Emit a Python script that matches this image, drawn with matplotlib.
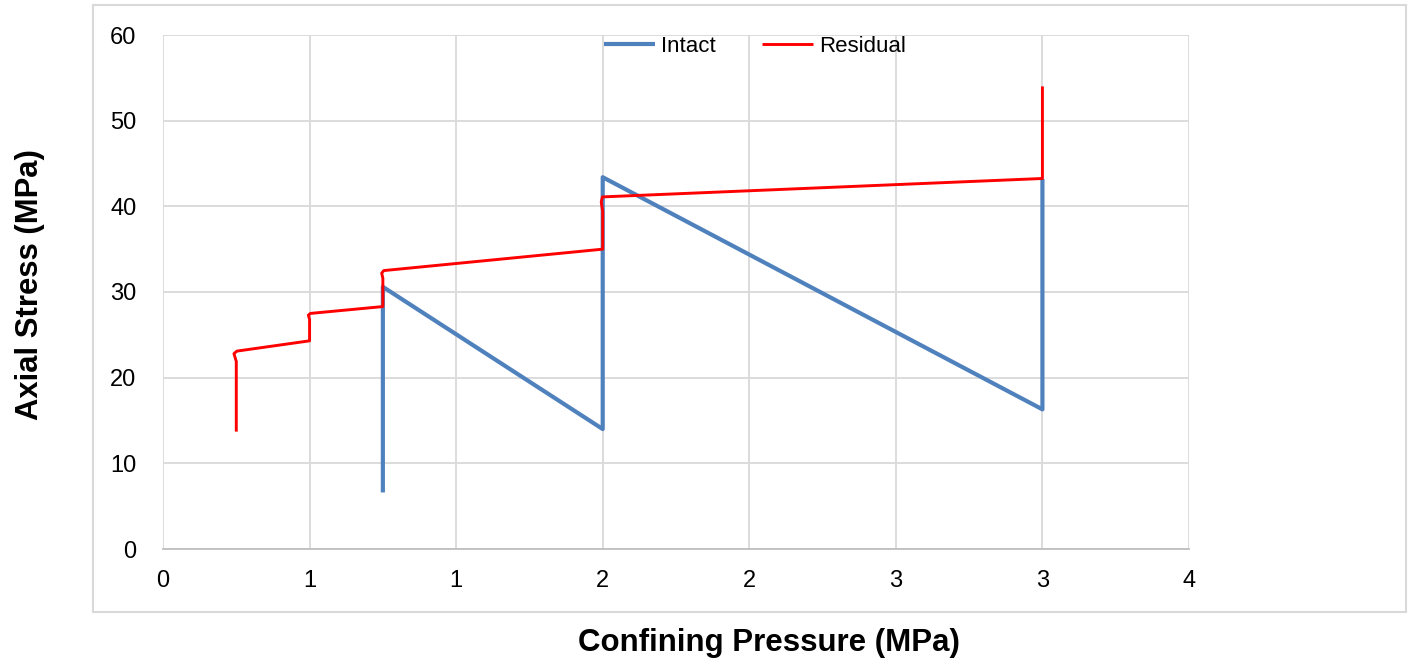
import matplotlib
matplotlib.use("Agg")
import matplotlib.pyplot as plt
from matplotlib.patches import Rectangle

plt.rcParams['font.family'] = ['Liberation Sans', 'DejaVu Sans']

# Intact strength path
intact_x = [0.75, 0.75, 1.5, 1.5, 3.0, 3.0, 3.0]
intact_y = [6.6, 30.6, 14.0, 43.4, 16.3, 17.3, 43.2]

# Residual strength path
residual_x = [0.25, 0.25, 0.242, 0.252, 0.5, 0.5, 0.496, 0.503, 0.75, 0.75,
              0.746, 0.753, 1.5, 1.5, 1.495, 1.499, 3.0, 3.0]
residual_y = [13.7, 21.9, 22.8, 23.1, 24.3, 26.8, 27.3, 27.5, 28.3, 31.6,
              32.2, 32.5, 35.0, 39.4, 40.5, 41.1, 43.25, 54.0]

x_ticks = [0, 0.5, 1.0, 1.5, 2.0, 2.5, 3.0, 3.5]
x_tick_labels = ['0', '1', '1', '2', '2', '3', '3', '4']
y_ticks = [0, 10, 20, 30, 40, 50, 60]

W, H = 1413, 666
fig = plt.figure(figsize=(W / 100, H / 100), dpi=100)
fig.patch.set_facecolor('white')

# chart frame
fig.patches.append(Rectangle((93 / W, 1 - 612 / H), (1406 - 93) / W, (612 - 5) / H,
                             transform=fig.transFigure, fill=False,
                             edgecolor='#d9d9d9', linewidth=1.5))

ax = fig.add_axes([163 / W, 1 - 549 / H, (1189 - 163) / W, (549 - 35) / H])
ax.set_xlim(0, 3.5)
ax.set_ylim(0, 60)
ax.set_xticks(x_ticks)
ax.set_xticklabels(x_tick_labels)
ax.set_yticks(y_ticks)
ax.grid(True, color='#d9d9d9', linewidth=1.3)
ax.set_axisbelow(True)
for side in ['top', 'right', 'left']:
    ax.spines[side].set_visible(False)
ax.spines['bottom'].set_color('#bfbfbf')
ax.spines['bottom'].set_linewidth(1.3)
ax.tick_params(axis='both', length=0, labelsize=17, colors='black')
ax.tick_params(axis='x', pad=15)
ax.tick_params(axis='y', pad=19)

ax.plot(intact_x, intact_y, color='#4f81bd', linewidth=3.0, label='Intact',
        solid_joinstyle='round', solid_capstyle='butt')
ax.plot(residual_x, residual_y, color='#ff0000', linewidth=2.1, label='Residual',
        solid_joinstyle='round', solid_capstyle='butt')

leg = ax.legend(loc='upper left', bbox_to_anchor=(595 / W, 1 - 27 / H),
                bbox_transform=fig.transFigure, ncol=2, frameon=False,
                fontsize=16, handlelength=2.3, handletextpad=0.25, columnspacing=2.1,
                borderaxespad=0)

fig.text(30 / W, 1 - 285 / H, 'Axial Stress (MPa)', rotation=90, ha='center', va='center',
         fontsize=22.3, fontweight='bold')
fig.text(769 / W, 1 - 643 / H, 'Confining Pressure (MPa)', ha='center', va='center',
         fontsize=22.5, fontweight='bold')

fig.savefig('out.png', dpi=100, facecolor='white')
